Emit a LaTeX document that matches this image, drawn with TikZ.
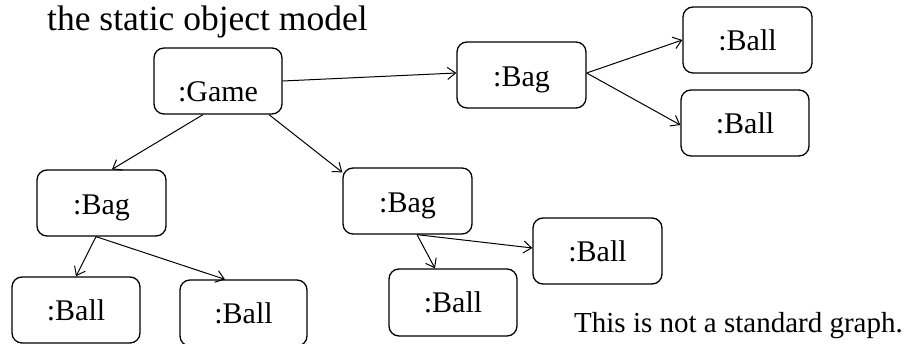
\documentclass[tikz,border=0pt]{standalone}
\usepackage{fontspec}
\setmainfont{Liberation Serif}
\usetikzlibrary{arrows.meta}
\begin{document}
\begin{tikzpicture}[x=1pt,y=-1pt,
  obj/.style={draw, line width=1.3pt, rounded corners=10pt, minimum width=128pt, minimum height=66pt,
    inner sep=0pt, font=\fontsize{30}{36}\selectfont, text depth=0pt, text height=21pt},
  link/.style={line width=1pt, -{Straight Barb[length=8pt,width=12pt]}}]
\useasboundingbox (0,0) rectangle (914,344);
\node[anchor=base west, font=\fontsize{35.5}{42}\selectfont, inner sep=0pt] (title) at (47,31) {the static object model};
\node[obj, text height=42pt] (game) at (218,81) {:Game};
\node[obj, text height=24pt, minimum width=129pt] (bagT) at (521.5,75) {:Bag};
\node[obj, minimum width=129pt] (ball1) at (747.5,40) {:Ball};
\node[obj] (ball2) at (745,123) {:Ball};
\node[obj, text height=24pt, minimum width=129pt] (bagL) at (101.5,203) {:Bag};
\node[obj, text height=24pt, minimum width=129pt] (bagM) at (407.5,201) {:Bag};
\node[obj] (ballL1) at (76,310) {:Ball};
\node[obj, minimum width=127pt] (ballL2) at (243.5,313) {:Ball};
\node[obj, minimum height=67pt] (ballM1) at (453,302.5) {:Ball};
\node[obj, minimum width=129pt] (ballM2) at (597.5,251) {:Ball};
\node[anchor=base west, font=\fontsize{29}{35}\selectfont, inner sep=0pt] (note) at (574,333) {This is not a standard graph.};
\draw[link] (game.east) -- ([yshift=2pt]bagT.west);
\draw[link] ([xshift=-15pt]game.south) -- ([xshift=10.5pt]bagL.north);
\draw[link] ([xshift=51pt]game.south) -- ([yshift=-5pt]bagM.north west);
\draw[link] ([yshift=2pt]bagT.east) -- (ball1.west);
\draw[link] ([yshift=2pt]bagT.east) -- ([yshift=-2pt]ball2.west);
\draw[link] ([xshift=-5.5pt]bagL.south) -- (ballL1.north);
\draw[link] ([xshift=-5.5pt]bagL.south) -- ([xshift=-18.5pt]ballL2.north);
\draw[link] ([xshift=9.5pt]bagM.south) -- ([xshift=-18pt]ballM1.north);
\draw[link] ([xshift=9.5pt]bagM.south) -- ([yshift=3pt]ballM2.west);
\end{tikzpicture}
\end{document}
